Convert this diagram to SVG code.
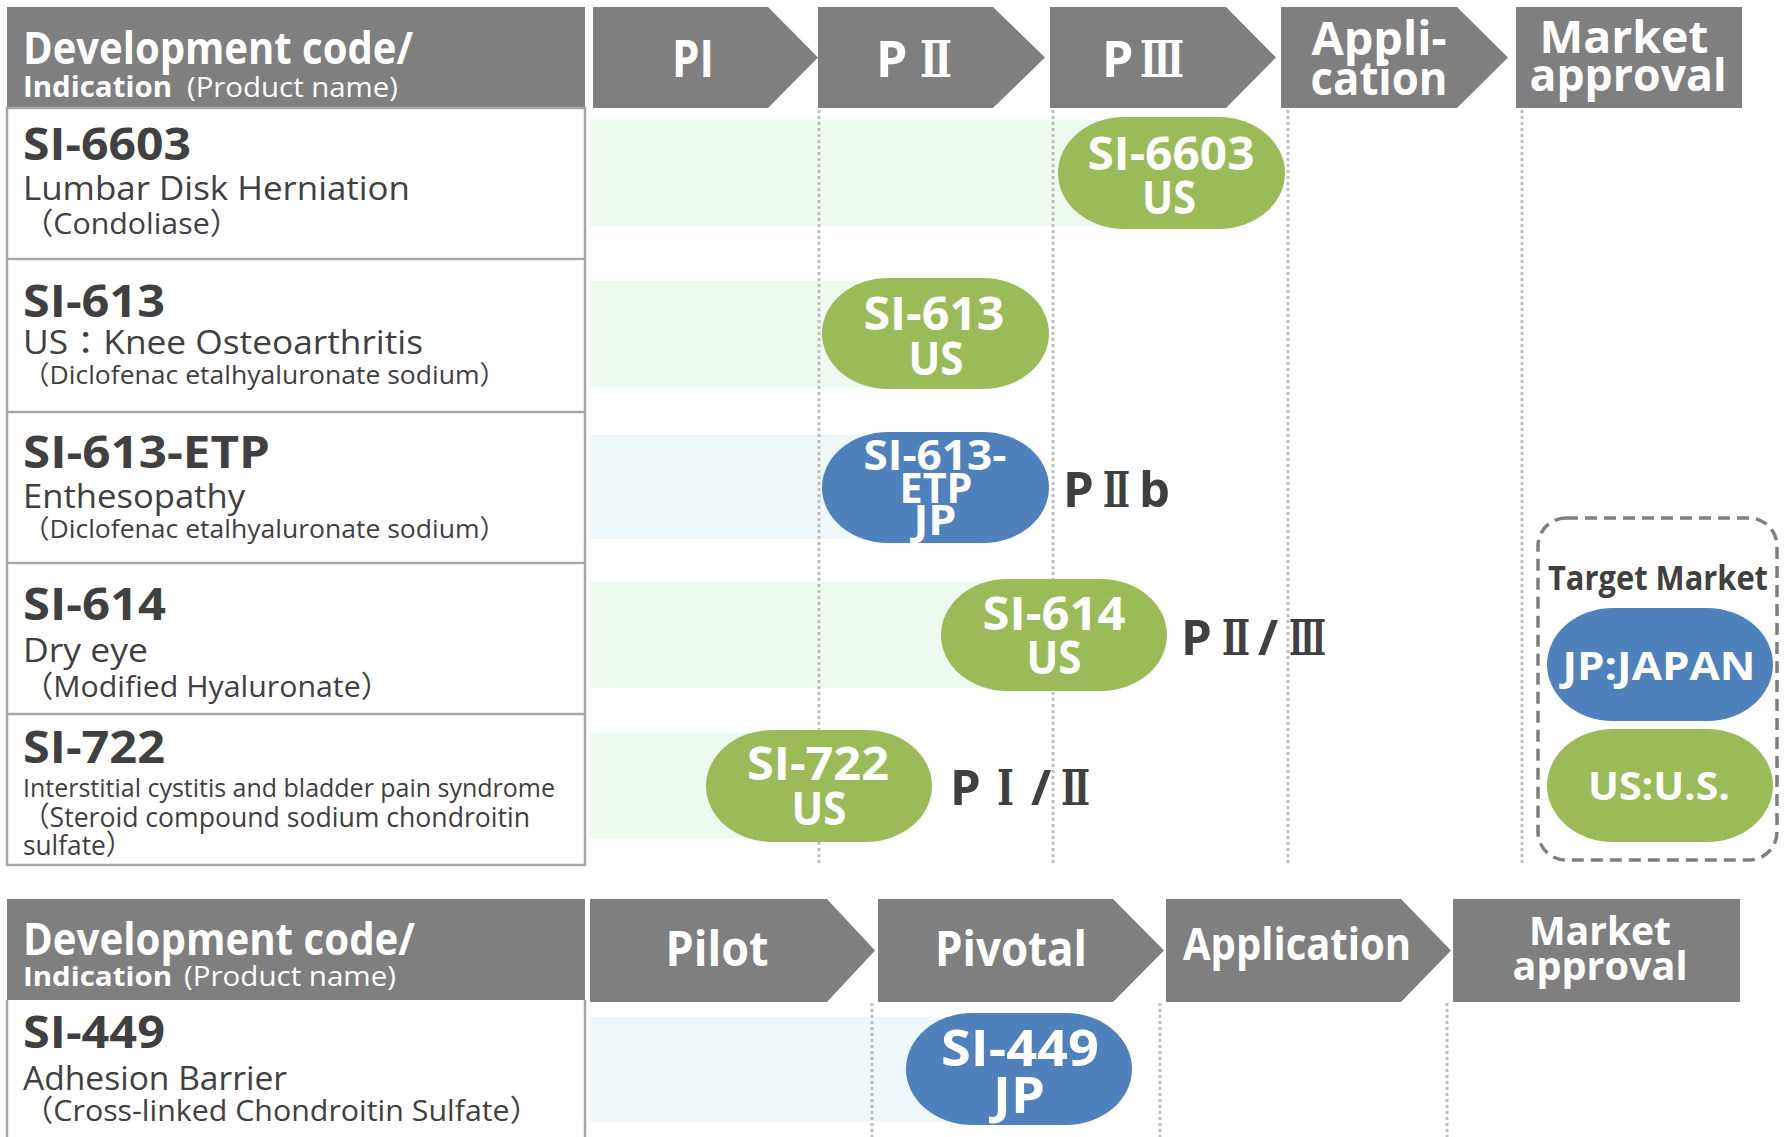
<svg xmlns="http://www.w3.org/2000/svg" width="1785" height="1137" viewBox="0 0 1785 1137">
<style>
.hdr{fill:#7f7f7f}
.wt{fill:#fff;font-family:"Open Sans","Noto Sans CJK JP",sans-serif;font-weight:700}
.wr{fill:#fff;font-family:"Open Sans","Noto Sans CJK JP",sans-serif;font-weight:400}
.rn{font-family:"Open Sans","Noto Sans CJK JP",sans-serif;font-weight:700}
.num{font-family:"DejaVu Serif","Noto Sans CJK JP",serif;font-weight:700}
.code{fill:#404040;font-family:"Open Sans","Noto Sans CJK JP",sans-serif;font-weight:700;font-size:44px}
.ind{fill:#404040;font-family:"Open Sans","Noto Sans CJK JP",sans-serif;font-weight:400}
.bg{fill:#ebfbee}
.bb{fill:#eef7f9}
.pg{fill:#9bbb59}
.pb{fill:#4f81bd}
.grid{stroke:#bfbfbf;stroke-width:3;stroke-dasharray:3 3;fill:none}
.tbl{fill:none;stroke:#a6a6a6;stroke-width:2.5}
.ptx{fill:#fff;font-family:"Open Sans",sans-serif;font-weight:700;text-anchor:middle}
.lbl{fill:#404040}
</style>
<rect width="1785" height="1137" fill="#fff"/>

<!-- bands -->
<g id="bands">
<rect class="bg" x="590" y="120" width="580" height="106"/>
<rect class="bg" x="590" y="281" width="345" height="106"/>
<rect class="bb" x="590" y="435" width="345" height="104"/>
<rect class="bg" x="590" y="582" width="464" height="106"/>
<rect class="bg" x="590" y="733" width="229" height="105"/>
<rect class="bb" x="590" y="1017" width="429" height="105"/>
</g>

<!-- grid -->
<g id="connectors">
<line class="grid" x1="819" y1="110" x2="819" y2="865"/>
<line class="grid" x1="1053" y1="110" x2="1053" y2="865"/>
<line class="grid" x1="1288" y1="110" x2="1288" y2="865"/>
<line class="grid" x1="1522" y1="110" x2="1522" y2="865"/>
<line class="grid" x1="872" y1="1003" x2="872" y2="1137"/>
<line class="grid" x1="1160" y1="1003" x2="1160" y2="1137"/>
<line class="grid" x1="1447" y1="1003" x2="1447" y2="1137"/>
</g>

<!-- top header -->
<g id="header-top">
<rect class="hdr" x="7" y="7" width="578" height="101"/>
<text class="wt" x="23" y="64" font-size="44" textLength="390" lengthAdjust="spacingAndGlyphs">Development code/</text>
<text class="wt" x="23" y="97" font-size="28" textLength="149" lengthAdjust="spacingAndGlyphs">Indication</text>
<text class="wr" x="187" y="97" font-size="28" textLength="211" lengthAdjust="spacingAndGlyphs">(Product name)</text>
</g>
<g id="phase-PI">
<polygon class="hdr" points="593,7 768,7 818,57.5 768,108 593,108"/>
<text class="wt" x="693" y="77" font-size="52" text-anchor="middle" textLength="42" lengthAdjust="spacingAndGlyphs">PI</text>
</g>
<g id="phase-PII">
<polygon class="hdr" points="818,7 993,7 1045,57.5 993,108 818,108"/>
<text class="rn" fill="#fff" y="77" font-size="50"><tspan x="876">P</tspan><tspan class="num" x="920" font-size="50" textLength="32" lengthAdjust="spacingAndGlyphs">Ⅱ</tspan></text>
</g>
<g id="phase-PIII">
<polygon class="hdr" points="1050,7 1226,7 1276,57.5 1226,108 1050,108"/>
<text class="rn" fill="#fff" y="77" font-size="50"><tspan x="1102">P</tspan><tspan class="num" x="1140" font-size="50" textLength="44" lengthAdjust="spacingAndGlyphs">Ⅲ</tspan></text>
</g>
<g id="phase-application">
<polygon class="hdr" points="1281,7 1457,7 1508,57.5 1457,108 1281,108"/>
<text class="wt" x="1379" y="55" font-size="46" text-anchor="middle" textLength="135" lengthAdjust="spacingAndGlyphs">Appli-</text>
<text class="wt" x="1379" y="95" font-size="46" text-anchor="middle" textLength="137" lengthAdjust="spacingAndGlyphs">cation</text>
</g>
<g id="phase-market">
<rect class="hdr" x="1516" y="7" width="226" height="101"/>
<text class="wt" x="1624" y="53" font-size="44" text-anchor="middle" textLength="169" lengthAdjust="spacingAndGlyphs">Market</text>
<text class="wt" x="1628" y="91" font-size="44" text-anchor="middle" textLength="197" lengthAdjust="spacingAndGlyphs">approval</text>
</g>

<!-- left table -->
<g id="table-top">
<rect class="tbl" x="7" y="108" width="578" height="757"/>
<line class="tbl" x1="7" y1="259" x2="585" y2="259"/>
<line class="tbl" x1="7" y1="412" x2="585" y2="412"/>
<line class="tbl" x1="7" y1="563" x2="585" y2="563"/>
<line class="tbl" x1="7" y1="714" x2="585" y2="714"/>
</g>

<g id="row-SI-6603">
<text class="code" x="23" y="160" textLength="168" lengthAdjust="spacingAndGlyphs">SI-6603</text>
<text class="ind" x="23" y="200" font-size="32" textLength="387" lengthAdjust="spacingAndGlyphs">Lumbar Disk Herniation</text>
<text class="ind" x="23" y="234" font-size="30" textLength="217" lengthAdjust="spacingAndGlyphs">（Condoliase）</text>
</g>
<g id="row-SI-613">
<text class="code" x="23" y="317" textLength="142" lengthAdjust="spacingAndGlyphs">SI-613</text>
<text class="ind" x="23" y="354" font-size="32" textLength="400" lengthAdjust="spacingAndGlyphs">US：Knee Osteoarthritis</text>
<text class="ind" x="23" y="384" font-size="26" textLength="483" lengthAdjust="spacingAndGlyphs">（Diclofenac etalhyaluronate sodium）</text>
</g>
<g id="row-SI-613-ETP">
<text class="code" x="23" y="468" textLength="247" lengthAdjust="spacingAndGlyphs">SI-613-ETP</text>
<text class="ind" x="23" y="508" font-size="32" textLength="222" lengthAdjust="spacingAndGlyphs">Enthesopathy</text>
<text class="ind" x="23" y="538" font-size="26" textLength="483" lengthAdjust="spacingAndGlyphs">（Diclofenac etalhyaluronate sodium）</text>
</g>
<g id="row-SI-614">
<text class="code" x="23" y="620" textLength="143" lengthAdjust="spacingAndGlyphs">SI-614</text>
<text class="ind" x="23" y="662" font-size="32" textLength="125" lengthAdjust="spacingAndGlyphs">Dry eye</text>
<text class="ind" x="23" y="697" font-size="30" textLength="368" lengthAdjust="spacingAndGlyphs">（Modified Hyaluronate）</text>
</g>
<g id="row-SI-722">
<text class="code" x="23" y="763" textLength="142" lengthAdjust="spacingAndGlyphs">SI-722</text>
<text class="ind" x="23" y="797" font-size="25" textLength="532" lengthAdjust="spacingAndGlyphs">Interstitial cystitis and bladder pain syndrome</text>
<text class="ind" x="23" y="827" font-size="28" textLength="507" lengthAdjust="spacingAndGlyphs">（Steroid compound sodium chondroitin</text>
<text class="ind" x="23" y="855" font-size="28" textLength="109" lengthAdjust="spacingAndGlyphs">sulfate）</text>
</g>

<!-- pills top -->
<g id="pill-SI-6603-US">
<rect class="pg" x="1058" y="117" width="227" height="112" rx="66" ry="56"/>
<text class="ptx" x="1171" y="170" font-size="46" textLength="167" lengthAdjust="spacingAndGlyphs">SI-6603</text>
<text class="ptx" x="1169" y="214" font-size="46" textLength="54" lengthAdjust="spacingAndGlyphs">US</text>
</g>
<g id="pill-SI-613-US">
<rect class="pg" x="822" y="278" width="227" height="111" rx="66" ry="55.5"/>
<text class="ptx" x="934" y="330" font-size="46" textLength="141" lengthAdjust="spacingAndGlyphs">SI-613</text>
<text class="ptx" x="936" y="375" font-size="46" textLength="55" lengthAdjust="spacingAndGlyphs">US</text>
</g>
<g id="pill-SI-613-ETP-JP">
<rect class="pb" x="822" y="432" width="227" height="111" rx="66" ry="55.5"/>
<text class="ptx" x="935" y="470" font-size="42" textLength="143" lengthAdjust="spacingAndGlyphs">SI-613-</text>
<text class="ptx" x="936" y="503" font-size="42" textLength="73" lengthAdjust="spacingAndGlyphs">ETP</text>
<text class="ptx" x="935" y="535" font-size="42" textLength="43" lengthAdjust="spacingAndGlyphs">JP</text>
</g>
<text id="label-PIIb" class="rn lbl" y="507" font-size="49"><tspan x="1063">P</tspan><tspan class="num" x="1103" textLength="27" lengthAdjust="spacingAndGlyphs">Ⅱ</tspan><tspan x="1139">b</tspan></text>
<g id="pill-SI-614-US">
<rect class="pg" x="941" y="579" width="226" height="112" rx="66" ry="56"/>
<text class="ptx" x="1054" y="630" font-size="46" textLength="143" lengthAdjust="spacingAndGlyphs">SI-614</text>
<text class="ptx" x="1054" y="674" font-size="46" textLength="55" lengthAdjust="spacingAndGlyphs">US</text>
</g>
<text id="label-PII-III" class="rn lbl" y="655" font-size="49"><tspan x="1181">P</tspan><tspan class="num" x="1222" textLength="28" lengthAdjust="spacingAndGlyphs">Ⅱ</tspan><tspan x="1258">/</tspan><tspan class="num" x="1289" textLength="37" lengthAdjust="spacingAndGlyphs">Ⅲ</tspan></text>
<g id="pill-SI-722-US">
<rect class="pg" x="706" y="730" width="226" height="112" rx="66" ry="56"/>
<text class="ptx" x="818" y="780" font-size="46" textLength="142" lengthAdjust="spacingAndGlyphs">SI-722</text>
<text class="ptx" x="819" y="825" font-size="46" textLength="55" lengthAdjust="spacingAndGlyphs">US</text>
</g>
<text id="label-PI-II" class="rn lbl" y="805" font-size="49"><tspan x="950">P</tspan><tspan class="num" x="997" textLength="17" lengthAdjust="spacingAndGlyphs">Ⅰ</tspan><tspan x="1031">/</tspan><tspan class="num" x="1061" textLength="29" lengthAdjust="spacingAndGlyphs">Ⅱ</tspan></text>

<!-- target market -->
<g id="target-market">
<rect x="1538" y="518" width="239" height="342" rx="28" fill="none" stroke="#7f7f7f" stroke-width="3.5" stroke-dasharray="12 7"/>
<text x="1548" y="590" font-size="34" fill="#404040" font-family="Open Sans, sans-serif" font-weight="700" textLength="220" lengthAdjust="spacingAndGlyphs">Target Market</text>
</g>
<g id="legend-JP">
<rect class="pb" x="1547" y="608" width="226" height="113" rx="66" ry="56.5"/>
<text class="ptx" x="1659" y="680" font-size="40" textLength="193" lengthAdjust="spacingAndGlyphs">JP:JAPAN</text>
</g>
<g id="legend-US">
<rect class="pg" x="1547" y="729" width="226" height="113" rx="66" ry="56.5"/>
<text class="ptx" x="1659" y="800" font-size="40" textLength="142" lengthAdjust="spacingAndGlyphs">US:U.S.</text>
</g>

<!-- bottom section -->
<g id="header-bottom">
<rect class="hdr" x="7" y="899" width="578" height="101"/>
<text class="wt" x="23" y="955" font-size="44" textLength="392" lengthAdjust="spacingAndGlyphs">Development code/</text>
<text class="wt" x="23" y="986" font-size="27" textLength="149" lengthAdjust="spacingAndGlyphs">Indication</text>
<text class="wr" x="184" y="986" font-size="27" textLength="212" lengthAdjust="spacingAndGlyphs">(Product name)</text>
</g>
<g id="phase-pilot">
<polygon class="hdr" points="590,899 827,899 875,950.5 827,1002 590,1002"/>
<text class="wt" x="717" y="966" font-size="49" text-anchor="middle" textLength="103" lengthAdjust="spacingAndGlyphs">Pilot</text>
</g>
<g id="phase-pivotal">
<polygon class="hdr" points="878,899 1113,899 1164,950.5 1113,1002 878,1002"/>
<text class="wt" x="1011" y="966" font-size="49" text-anchor="middle" textLength="152" lengthAdjust="spacingAndGlyphs">Pivotal</text>
</g>
<g id="phase-application-b">
<polygon class="hdr" points="1166,899 1401,899 1451,950.5 1401,1002 1166,1002"/>
<text class="wt" x="1297" y="960" font-size="44" text-anchor="middle" textLength="228" lengthAdjust="spacingAndGlyphs">Application</text>
</g>
<g id="phase-market-b">
<rect class="hdr" x="1453" y="899" width="287" height="103"/>
<text class="wt" x="1600" y="945" font-size="40" text-anchor="middle" textLength="142" lengthAdjust="spacingAndGlyphs">Market</text>
<text class="wt" x="1600" y="980" font-size="40" text-anchor="middle" textLength="175" lengthAdjust="spacingAndGlyphs">approval</text>
</g>
<g id="table-bottom">
<line class="tbl" x1="7" y1="1000" x2="7" y2="1137"/>
<line class="tbl" x1="585" y1="1000" x2="585" y2="1137"/>
</g>
<g id="row-SI-449">
<text class="code" x="23" y="1048" textLength="142" lengthAdjust="spacingAndGlyphs">SI-449</text>
<text class="ind" x="23" y="1090" font-size="32" textLength="264" lengthAdjust="spacingAndGlyphs">Adhesion Barrier</text>
<text class="ind" x="23" y="1121" font-size="30" textLength="517" lengthAdjust="spacingAndGlyphs">（Cross-linked Chondroitin Sulfate）</text>
</g>
<g id="pill-SI-449-JP">
<rect class="pb" x="906" y="1013" width="226" height="112" rx="66" ry="56"/>
<text class="ptx" x="1020" y="1066" font-size="50" textLength="158" lengthAdjust="spacingAndGlyphs">SI-449</text>
<text class="ptx" x="1019" y="1113" font-size="50" textLength="52" lengthAdjust="spacingAndGlyphs">JP</text>
</g>
</svg>
